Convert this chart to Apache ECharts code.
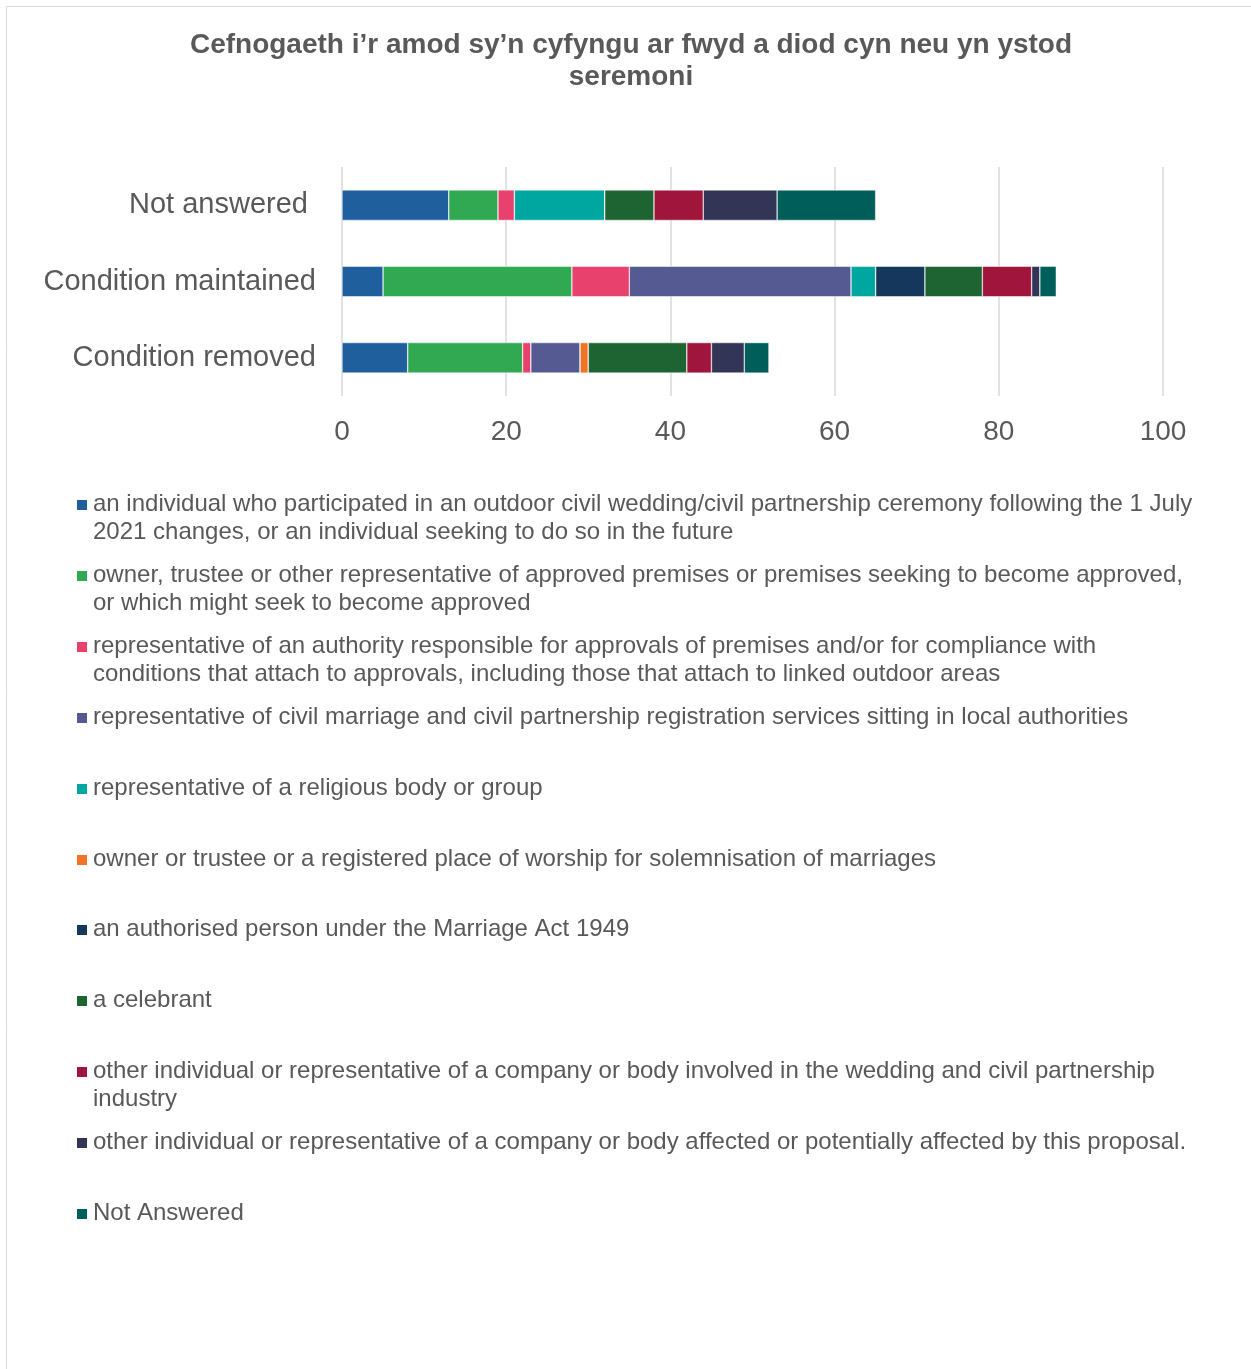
<!DOCTYPE html>
<html>
<head>
<meta charset="utf-8">
<script src="https://cdn.jsdelivr.net/npm/echarts@6/dist/echarts.min.js"></script>
<style>
html,body{margin:0;padding:0;background:#fff;}
#chart{width:1251px;height:1369px;}
</style>
</head>
<body>
<div id="chart"></div>
<script>
const categories = ['Condition removed', 'Condition maintained', 'Not answered '];
const seriesNames = [
  'an individual who participated in an outdoor civil wedding/civil partnership ceremony following the 1 July 2021 changes, or an individual seeking to do so in the future',
  'owner, trustee or other representative of approved premises or premises seeking to become approved, or which might seek to become approved',
  'representative of an authority responsible for approvals of premises and/or for compliance with conditions that attach to approvals, including those that attach to linked outdoor areas',
  'representative of civil marriage and civil partnership registration services sitting in local authorities',
  'representative of a religious body or group',
  'owner or trustee or a registered place of worship for solemnisation of marriages',
  'an authorised person under the Marriage Act 1949',
  'a celebrant',
  'other individual or representative of a company or body involved in the wedding and civil partnership industry',
  'other individual or representative of a company or body affected or potentially affected by this proposal.',
  'Not Answered'
];
const individual   = [8, 5, 13];
const owner        = [14, 23, 6];
const authority    = [1, 7, 2];
const registration = [6, 27, 0];
const religious    = [0, 3, 11];
const worship      = [1, 0, 0];
const authorised   = [0, 6, 0];
const celebrant    = [12, 7, 6];
const industry     = [3, 6, 6];
const affected     = [4, 1, 9];
const notAnswered  = [3, 2, 12];
const seriesValues = [individual, owner, authority, registration, religious, worship, authorised, celebrant, industry, affected, notAnswered];
const colors = ['#1F5F9E','#31A952','#E9416E','#555A93','#00A6A0','#F07326','#14375B','#1E6433','#A0153B','#333557','#005E5A'];
const xTicks = [0, 20, 40, 60, 80, 100];

// layout: marker centre y of each legend row
const legendCentres = [504, 575, 646, 717, 788, 859, 929, 1000, 1071, 1142, 1213];

const chart = echarts.init(document.getElementById('chart'), null, {renderer: 'canvas'});
const FONT = 'Liberation Sans, Arial, sans-serif';

const markerLegends = seriesNames.map((name, i) => ({
  data: [name],
  left: 75,
  top: legendCentres[i] - 6,
  padding: 0,
  icon: 'rect',
  itemWidth: 12,
  itemHeight: 12,
  selectedMode: false,
  formatter: () => '',
  textStyle: {fontSize: 1}
}));
const textLegends = seriesNames.map((name, i) => ({
  data: [name],
  left: 86,
  top: legendCentres[i] - 14,
  padding: 0,
  icon: 'rect',
  itemWidth: 1,
  itemHeight: 0,
  itemStyle: {opacity: 0},
  selectedMode: false,
  textStyle: {
    fontFamily: FONT, fontSize: 24, color: '#595959',
    width: 1108, overflow: 'break', lineHeight: 28
  }
}));

const option = {
  color: colors,
  animation: false,
  title: {
    text: 'Cefnogaeth i\u2019r amod sy\u2019n cyfyngu ar fwyd a diod cyn neu yn ystod\nseremoni',
    left: 626, textAlign: 'center', top: 24,
    textStyle: {fontFamily: FONT, fontSize: 28, fontWeight: 'bold', color: '#595959', lineHeight: 32}
  },
  graphic: [{
    type: 'rect', shape: {x: 6.5, y: 6.5, width: 1260, height: 1400},
    style: {fill: 'none', stroke: '#D9D9D9', lineWidth: 1}, silent: true
  }],
  legend: markerLegends.concat(textLegends),
  grid: {left: 342, right: 88, top: 167, bottom: 973, containLabel: false},
  xAxis: {
    type: 'value', min: 0, max: 100, interval: 20,
    axisLine: {show: false}, axisTick: {show: false},
    splitLine: {lineStyle: {color: '#D9D9D9', width: 1.5}},
    axisLabel: {fontFamily: FONT, fontSize: 28, color: '#595959', margin: 22,
      formatter: v => xTicks.indexOf(v) >= 0 ? String(v) : ''}
  },
  yAxis: {
    type: 'category', data: categories,
    axisLine: {show: false}, axisTick: {show: false},
    axisLabel: {fontFamily: FONT, fontSize: 29, color: '#595959', margin: 26}
  },
  series: seriesValues.map((vals, i) => ({
    name: seriesNames[i], type: 'bar', stack: 'total', barWidth: '40%',
    data: vals,
    itemStyle: {borderColor: '#ffffff', borderWidth: 0.5}
  }))
};
chart.setOption(option);
</script>
</body>
</html>
